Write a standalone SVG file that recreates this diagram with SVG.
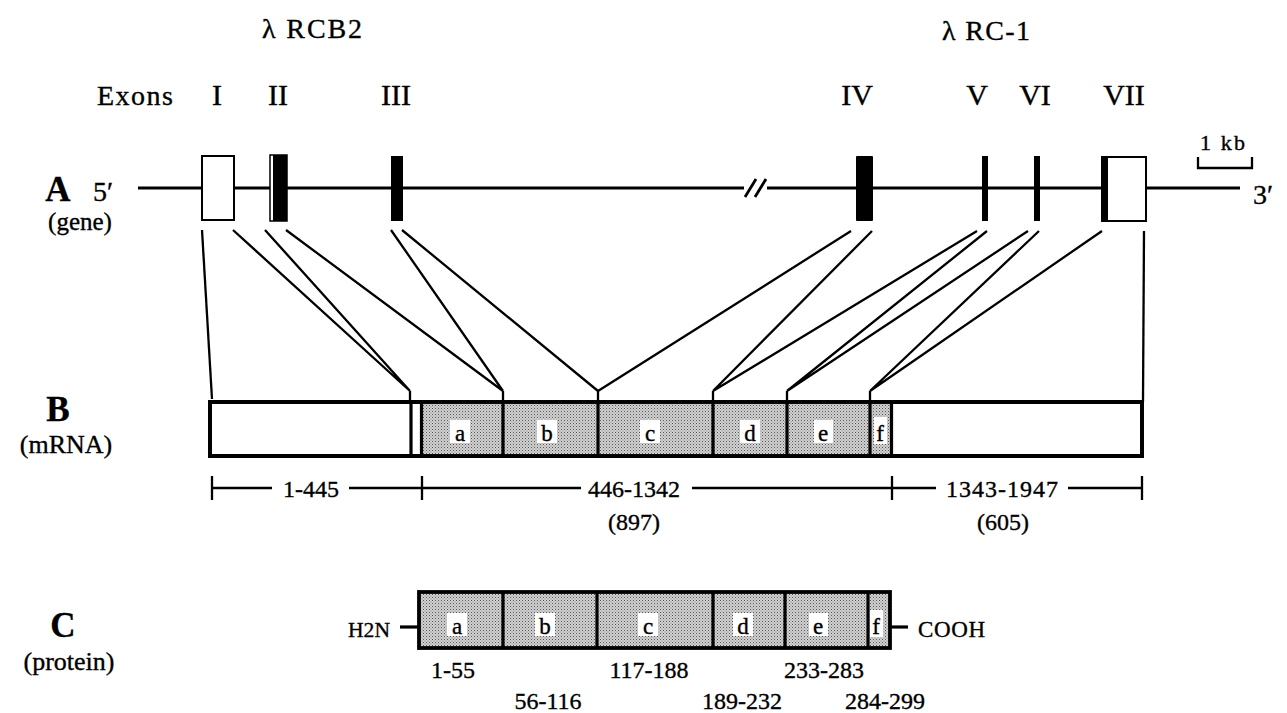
<svg xmlns="http://www.w3.org/2000/svg" width="1287" height="713" viewBox="0 0 1287 713">
<defs>
<pattern id="stip" width="3" height="3" patternUnits="userSpaceOnUse">
<rect width="3" height="3" fill="#d2d2d2"/>
<rect width="1" height="1" fill="#555"/>
<rect x="1.5" y="1.5" width="1" height="1" fill="#808080"/>
</pattern>
</defs>
<style>
text{font-family:"Liberation Serif","Times New Roman",serif;fill:#000;stroke:#000;stroke-width:0.35}
.lab{font-size:28px}
.rom{font-size:30px;text-anchor:middle}
.big{font-size:35px;font-weight:bold;text-anchor:middle}
.sub{font-size:26px;text-anchor:middle}
.num{font-size:24px;text-anchor:middle}
.seg{font-size:23px;text-anchor:middle}
.ln{stroke:#000;stroke-width:2.3;fill:none}
.gl{stroke:#000;stroke-width:3.2;fill:none}
.div{stroke:#000;stroke-width:3.2}
.box{stroke:#000;stroke-width:3.8}
.wp{fill:#fff}
</style>
<rect width="1287" height="713" fill="#fff"/>

<g id="titles">
<text class="lab" x="312" y="38" text-anchor="middle" textLength="100" lengthAdjust="spacing">λ RCB2</text>
<text class="lab" x="986" y="40" text-anchor="middle" textLength="88" lengthAdjust="spacing">λ RC-1</text>
<text class="lab" x="97" y="105" textLength="76" lengthAdjust="spacing">Exons</text>
<text class="rom" x="217" y="105">I</text>
<text class="rom" x="278" y="105">II</text>
<text class="rom" x="396" y="105">III</text>
<text class="rom" x="857" y="105">IV</text>
<text class="rom" x="977" y="105">V</text>
<text class="rom" x="1035" y="105">VI</text>
<text class="rom" x="1124" y="105">VII</text>
</g>

<g id="labelA">
<text class="big" x="58" y="201">A</text>
<text class="sub" x="80" y="230" style="font-size:25px">(gene)</text>
<text class="lab" x="93" y="201">5′</text>
<text class="lab" x="1253" y="204">3′</text>
</g>
<g id="labelB">
<text class="big" x="58" y="421">B</text>
<text class="sub" x="66" y="453">(mRNA)</text>
</g>
<g id="labelC">
<text class="big" x="63" y="637">C</text>
<text class="sub" x="69" y="670">(protein)</text>
</g>

<g id="scale">
<text x="1200" y="150" style="font-size:22px" textLength="45" lengthAdjust="spacing">1 kb</text>
<path class="ln" d="M1198,157 V168 H1252 V157"/>
</g>

<g id="gene">
<path class="gl" d="M138,188 H744 M767,188 H1240"/>
<path class="ln" style="stroke-width:2.8" d="M745,197 L756,179 M755,197 L766,179"/>
<rect id="exonI" x="202" y="156" width="32" height="64" fill="#fff" stroke="#000" stroke-width="2"/>
<g id="exonII">
<rect x="270" y="155" width="17" height="66" fill="#fff" stroke="#000" stroke-width="1.5"/>
<rect x="273" y="155" width="14" height="66" fill="#000"/>
</g>
<rect id="exonIII" x="391" y="156" width="12" height="65" fill="#000"/>
<rect id="exonIV" x="856" y="156" width="17" height="65" rx="1" fill="#000"/>
<rect id="exonV" x="982" y="156" width="6" height="65" fill="#000"/>
<rect id="exonVI" x="1034" y="156" width="6" height="65" fill="#000"/>
<g id="exonVII">
<rect x="1102" y="157" width="44" height="64" fill="#fff" stroke="#000" stroke-width="2"/>
<rect x="1101" y="157" width="7" height="64" fill="#000"/>
</g>
</g>

<g id="connectors">
<path class="ln" d="M202,230 L212,399"/>
<path class="ln" d="M233,230 L410,391 M265,230 L410,391 M410,391 V402"/>
<path class="ln" d="M286,230 L503,391 M391,230 L503,391 M503,391 V402"/>
<path class="ln" d="M402,230 L598,391 M851,231 L598,391 M598,391 V402"/>
<path class="ln" d="M872,231 L713,391 M977,231 L713,391 M713,391 V402"/>
<path class="ln" d="M987,231 L787,391 M1028,231 L787,391 M787,391 V402"/>
<path class="ln" d="M1039,231 L870,391 M1102,231 L870,391 M870,391 V402"/>
<path class="ln" d="M1144,231 L1143,402"/>
</g>

<g id="mrna">
<rect x="210" y="402" width="932" height="54" fill="#fff" class="box"/>
<rect x="421.5" y="403.5" width="470" height="51" fill="url(#stip)"/>
<line class="div" x1="411" y1="402" x2="411" y2="456"/>
<line class="div" x1="421.5" y1="402" x2="421.5" y2="456"/>
<line class="div" x1="503" y1="402" x2="503" y2="456"/>
<line class="div" x1="598" y1="402" x2="598" y2="456"/>
<line class="div" x1="713" y1="402" x2="713" y2="456"/>
<line class="div" x1="787" y1="402" x2="787" y2="456"/>
<line class="div" x1="870" y1="402" x2="870" y2="456"/>
<line class="div" x1="891.5" y1="402" x2="891.5" y2="456"/>
<rect x="210" y="402" width="932" height="54" fill="none" class="box"/>
<rect class="wp" x="450" y="420" width="20" height="23"/>
<rect class="wp" x="537" y="420" width="20" height="23"/>
<rect class="wp" x="640" y="420" width="20" height="23"/>
<rect class="wp" x="740" y="420" width="20" height="23"/>
<rect class="wp" x="814" y="420" width="19" height="23"/>
<rect class="wp" x="874" y="417" width="13" height="27"/>
<text class="seg" x="460" y="441">a</text>
<text class="seg" x="547" y="441">b</text>
<text class="seg" x="650" y="441">c</text>
<text class="seg" x="750" y="441">d</text>
<text class="seg" x="823" y="441">e</text>
<text class="seg" x="880" y="441">f</text>
</g>

<g id="ruler">
<path class="ln" d="M212,476 V500 M422,476 V500 M892,476 V500 M1142,476 V500"/>
<path class="ln" d="M212,488 H272 M349,488 H422 M422,488 H581 M692,488 H892 M892,488 H936 M1068,488 H1142"/>
<text class="num" x="311" y="497">1-445</text>
<text class="num" x="634" y="497">446-1342</text>
<text class="num" x="1002" y="497" textLength="112" lengthAdjust="spacing">1343-1947</text>
<text class="num" x="634" y="530">(897)</text>
<text class="num" x="1003" y="530">(605)</text>
</g>

<g id="protein">
<text x="348" y="637" style="font-size:22px" textLength="42" lengthAdjust="spacingAndGlyphs">H2N</text>
<line class="div" x1="400" y1="627" x2="419" y2="627"/>
<rect x="419" y="592" width="471" height="56" fill="url(#stip)"/>
<line class="div" x1="503" y1="592" x2="503" y2="648"/>
<line class="div" x1="597" y1="592" x2="597" y2="648"/>
<line class="div" x1="713" y1="592" x2="713" y2="648"/>
<line class="div" x1="785" y1="592" x2="785" y2="648"/>
<line class="div" x1="868" y1="592" x2="868" y2="648"/>
<rect x="419" y="592" width="471" height="56" fill="none" class="box"/>
<line class="div" x1="890" y1="627" x2="908" y2="627"/>
<text x="918" y="637" style="font-size:23px" textLength="67" lengthAdjust="spacing">COOH</text>
<rect class="wp" x="447" y="613" width="20" height="23"/>
<rect class="wp" x="535" y="613" width="20" height="23"/>
<rect class="wp" x="638" y="613" width="20" height="23"/>
<rect class="wp" x="733" y="613" width="20" height="23"/>
<rect class="wp" x="809" y="613" width="19" height="23"/>
<rect class="wp" x="870" y="610" width="13" height="27"/>
<text class="seg" x="457" y="634">a</text>
<text class="seg" x="545" y="634">b</text>
<text class="seg" x="648" y="634">c</text>
<text class="seg" x="743" y="634">d</text>
<text class="seg" x="818" y="634">e</text>
<text class="seg" x="876" y="634">f</text>
<text class="num" x="453" y="678">1-55</text>
<text class="num" x="649" y="678">117-188</text>
<text class="num" x="824" y="678">233-283</text>
<text class="num" x="548" y="709">56-116</text>
<text class="num" x="742" y="709">189-232</text>
<text class="num" x="885" y="709">284-299</text>
</g>
</svg>
